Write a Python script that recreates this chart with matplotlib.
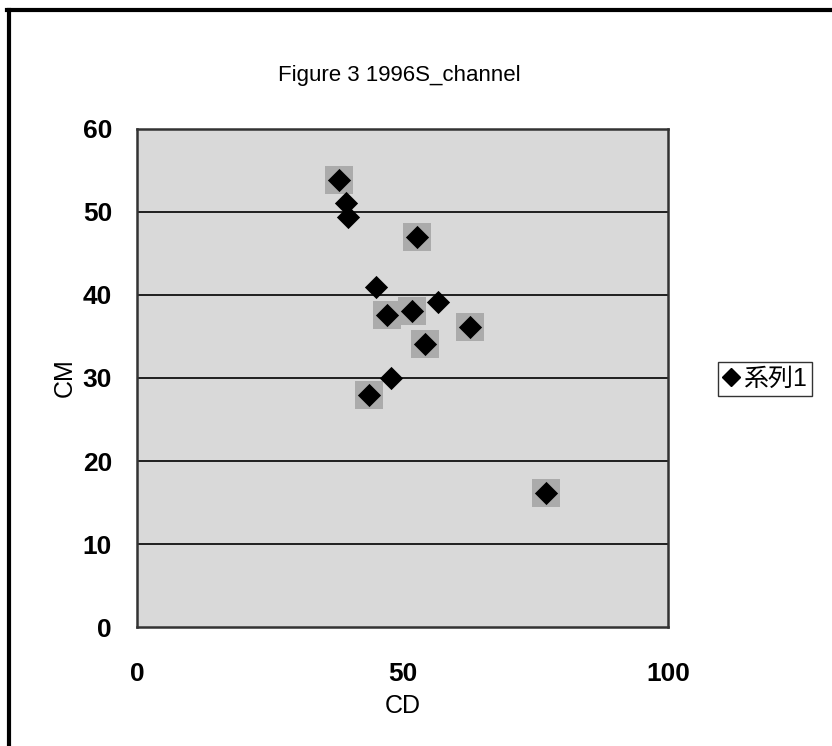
import matplotlib.pyplot as plt
from matplotlib.lines import Line2D

plt.rcParams['font.family'] = ['Liberation Sans', 'Noto Sans CJK JP', 'DejaVu Sans']

# channel survey points, 1996
cd = [38.0, 39.4, 39.7, 52.7, 45.1, 56.7, 47.0, 51.8, 62.7, 54.2, 47.8, 43.7, 77.0]
cm = [53.8, 51.1, 49.4, 47.0, 41.0, 39.1, 37.6, 38.1, 36.1, 34.1, 30.0, 28.0, 16.2]
halo = [0, 3, 6, 7, 8, 9, 11, 12]

x_ticks = [0, 50, 100]
y_ticks = [0, 10, 20, 30, 40, 50, 60]
series_name = '系列1'

fig = plt.figure(figsize=(8.32, 7.46), dpi=100)
ax = fig.add_axes([0.1647, 0.1595, 0.638, 0.6676])
ax.set_facecolor('#d9d9d9')

ax.set_xlim(0, 100)
ax.set_ylim(0, 60)
ax.set_xticks(x_ticks)
ax.set_yticks(y_ticks)
ax.tick_params(length=0, labelsize=19)
ax.tick_params(axis='x', pad=25)
ax.tick_params(axis='y', pad=18)
for t in ax.get_xticklabels() + ax.get_yticklabels():
    t.set_fontweight('bold')

for v in y_ticks[1:-1]:
    ax.axhline(v, color='black', lw=1.2, zorder=1)

for s in ax.spines.values():
    s.set_color('#333333')
    s.set_linewidth(1.8)

# soft grey blobs behind some markers
ax.scatter([cd[i] for i in halo], [cm[i] for i in halo], marker='s', s=420,
           color='#ababab', zorder=2, linewidths=0)
ax.scatter(cd, cm, marker='D', s=140, color='black', zorder=3, linewidths=0)

ax.set_xlabel('CD', fontsize=18, labelpad=6)
ax.set_ylabel('CM', fontsize=18, labelpad=4)
fig.text(0.48, 0.899, 'Figure 3 1996S_channel', fontsize=16, ha='center', va='center')

handle = Line2D([], [], marker='D', color='black', ls='none', markersize=9)
fig.legend([handle], [series_name], loc='center left',
           bbox_to_anchor=(0.863, 0.492), fontsize=18, frameon=True,
           fancybox=False, edgecolor='black', handlelength=0.6,
           handletextpad=0.2, borderpad=0.2, borderaxespad=0)

# outer chart frame (top and left edges)
fig.add_artist(Line2D([0.009, 1.0], [0.986, 0.986], color='black', lw=3,
                      transform=fig.transFigure))
fig.add_artist(Line2D([0.011, 0.011], [0.0, 0.986], color='black', lw=3,
                      transform=fig.transFigure))

fig.savefig('out.png', dpi=100)
